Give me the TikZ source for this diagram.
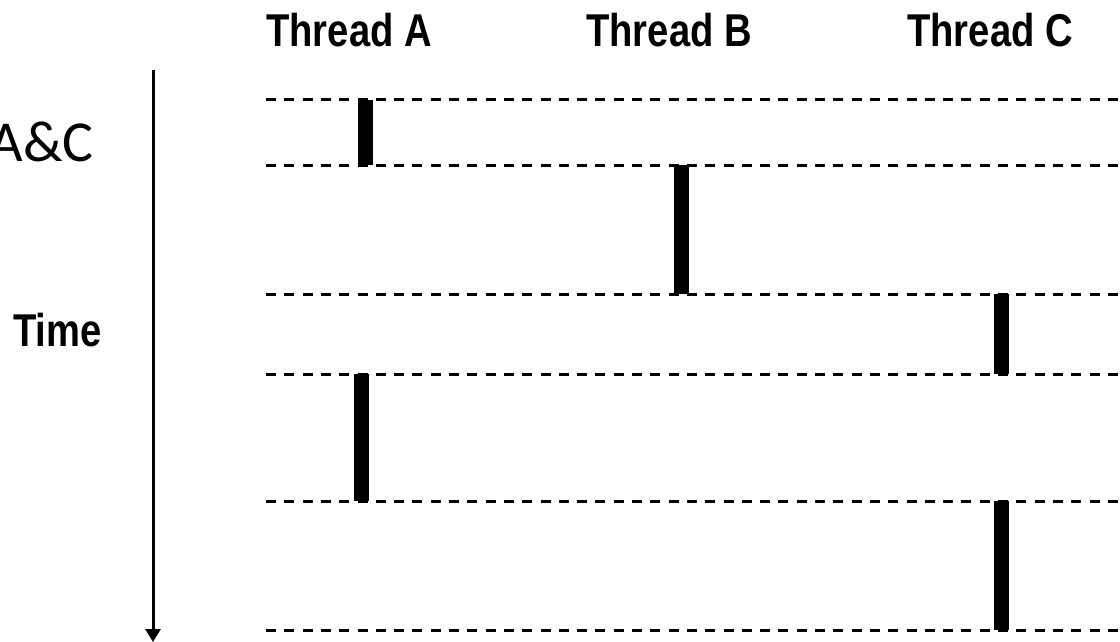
\documentclass[tikz,border=0pt]{standalone}
\usepackage{fontspec}
\usetikzlibrary{arrows.meta}
\newfontfamily\narrowsans{Liberation Sans}[FakeStretch=0.83]
\newfontfamily\calib{Carlito}
\tikzset{
  threadlabel/.style={inner sep=0pt, anchor=base, font=\narrowsans\bfseries\fontsize{46}{50}\selectfont},
  sidelabel/.style={inner sep=0pt, font=\calib\fontsize{58}{62}\selectfont},
  dashline/.style={line width=3pt, dash pattern=on 10pt off 8.3pt},
  runbar/.style={fill=black, draw=none, inner sep=0pt, minimum width=15pt},
  axisline/.style={line width=3pt, -{Triangle[width=15pt,length=13pt]}}
}
\begin{document}
\begin{tikzpicture}[x=1pt,y=-1pt]
\useasboundingbox (0,0) rectangle (1120,642);
% labels
\node[threadlabel] (ta) at (349,47) {Thread A};
\node[threadlabel] (tb) at (669,47) {Thread B};
\node[threadlabel] (tc) at (990,47) {Thread C};
\node[threadlabel] (time) at (57.5,346) {Time};
\node[sidelabel, anchor=base east] (ac) at (94,161) {A\&C};
% time axis
\coordinate (ttop) at (153,70);
\coordinate (tbot) at (153,642);
\draw[axisline] (ttop) -- (tbot);
% dashed time slices
\foreach \i/\y in {1/100,2/165,3/294,4/374,5/501,6/630} {
  \coordinate (L\i) at (266,\y);
  \coordinate (R\i) at (1120,\y);
  \draw[dashline] (L\i) -- (R\i);
}
% execution bars
\node[runbar, minimum height=65pt]  (a1) at (365,132.5) {};
\node[runbar, minimum height=129pt] (b1) at (681.5,229.5) {};
\node[runbar, minimum height=80pt]  (c1) at (1001.5,334) {};
\node[runbar, minimum height=127pt] (a2) at (361.5,437.5) {};
\node[runbar, minimum height=129pt] (c2) at (1001.5,565.5) {};
\end{tikzpicture}
\end{document}
